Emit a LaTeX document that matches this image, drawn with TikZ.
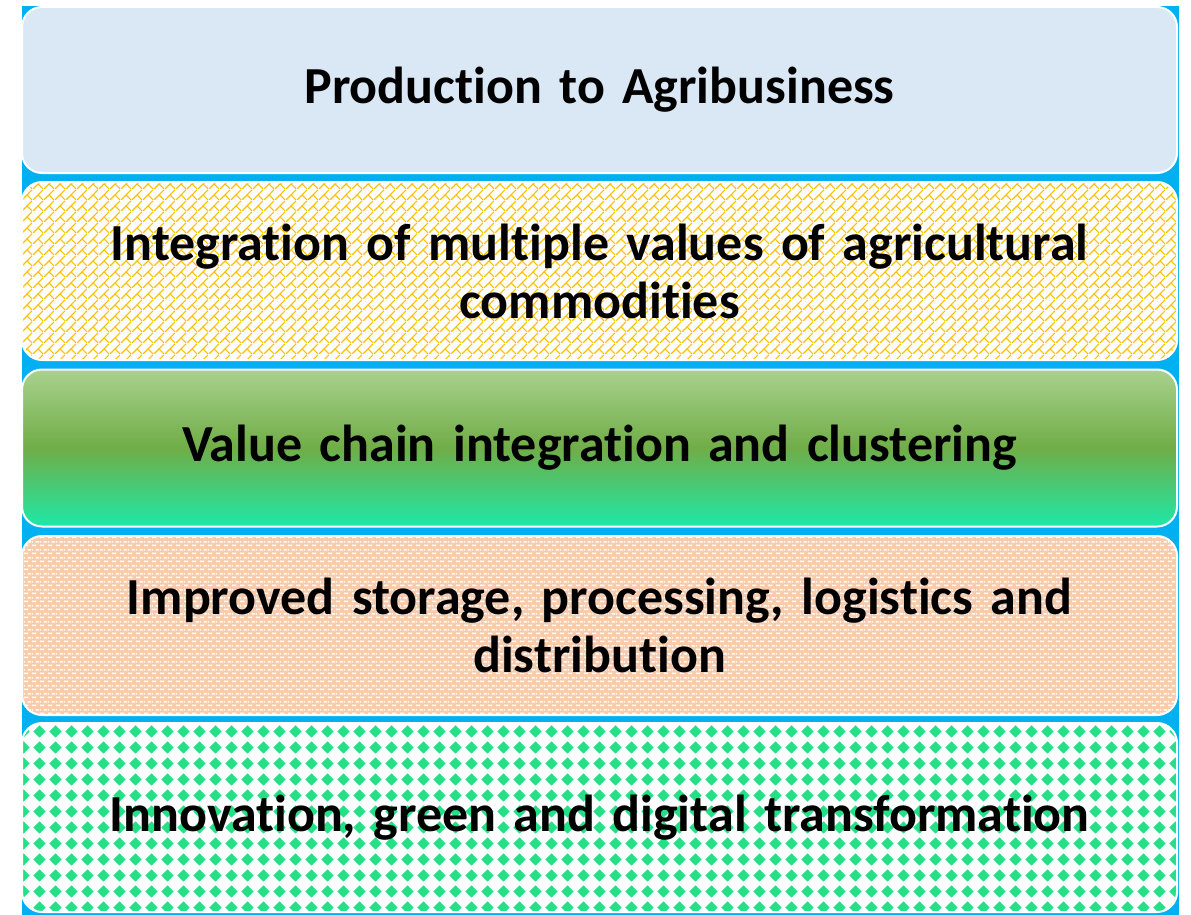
\documentclass[tikz,border=0pt]{standalone}
\usepackage{fontspec}
\setmainfont{Carlito}[Ligatures=NoCommon, WordSpace=0.85]
\usetikzlibrary{patterns.meta}

\definecolor{skyback}{HTML}{00B0F0}
\definecolor{frostblue}{HTML}{DAE7F5}
\definecolor{goldline}{HTML}{FFC000}
\definecolor{leaftop}{HTML}{A9D18E}
\definecolor{leafmid}{HTML}{70AD47}
\definecolor{leafbot}{HTML}{1EE8A8}
\definecolor{peach}{HTML}{F8CBAD}
\definecolor{mintdot}{HTML}{22E085}

% diagonal brick of the second layer
\tikzdeclarepattern{
  name=diagbrick,
  bottom left={(0pt,0pt)},
  top right={(11pt,11pt)},
  tile size={(11pt,11pt)},
  code={
    \draw[line width=1.2pt] (0pt,0pt) -- (11pt,11pt);
    \draw[line width=1.2pt] (5.5pt,5.5pt) -- (11pt,0pt);
  }
}
% white dashes of the fourth layer
\tikzdeclarepattern{
  name=dashrows,
  bottom left={(0pt,0pt)},
  top right={(8pt,8pt)},
  tile size={(8pt,8pt)},
  code={
    \fill (0pt,1pt) rectangle (5pt,2.6pt);
    \fill (4pt,5pt) rectangle (8pt,6.6pt);
    \fill (0pt,5pt) rectangle (1pt,6.6pt);
  }
}
% diamonds of the last layer
\tikzdeclarepattern{
  name=diamonds,
  bottom left={(0pt,0pt)},
  top right={(16pt,16pt)},
  tile size={(16pt,16pt)},
  code={
    \fill (8pt,1.5pt) -- (14.5pt,8pt) -- (8pt,14.5pt) -- (1.5pt,8pt) -- cycle;
  }
}

\begin{document}
\begin{tikzpicture}[
            x=1pt, y=-1pt,
            every node/.style = {rounded corners=20pt, draw=white, line width=2pt, minimum width=1155pt, inner sep=0pt, align=center, text width=1120pt, font=\bfseries\fontsize{52}{58}\selectfont},
            frost/.style = {fill=frostblue},
            brick/.style = {preaction={fill=white}, pattern={diagbrick}, pattern color=goldline},
            leaf/.style = {top color=leaftop, bottom color=leafbot, middle color=leafmid},
            dashes/.style = {preaction={fill=peach}, pattern={dashrows}, pattern color=white},
            dots/.style = {preaction={fill=white}, pattern={diamonds}, pattern color=mintdot}
          ]
          \useasboundingbox (0,0) rectangle (1191,915);
          \fill[skyback] (22,6) rectangle (1179,915);

          \node[frost, minimum height=166pt] (agri) at (599.5,90) {Production to Agribusiness};
          \node[brick, minimum height=178pt] (multi) at (599.5,271) {Integration of multiple values of agricultural\\ commodities};
          \node[leaf, minimum height=157pt] (chain) at (599.5,448) {Value chain integration and clustering};
          \node[dashes, minimum height=179pt] (store) at (599.5,625.5) {Improved storage, processing, logistics and\\ distribution};
          \node[dots, minimum height=189pt] (green) at (599.5,817.5) {Innovation, green and digital transformation};
        \end{tikzpicture}
\end{document}
